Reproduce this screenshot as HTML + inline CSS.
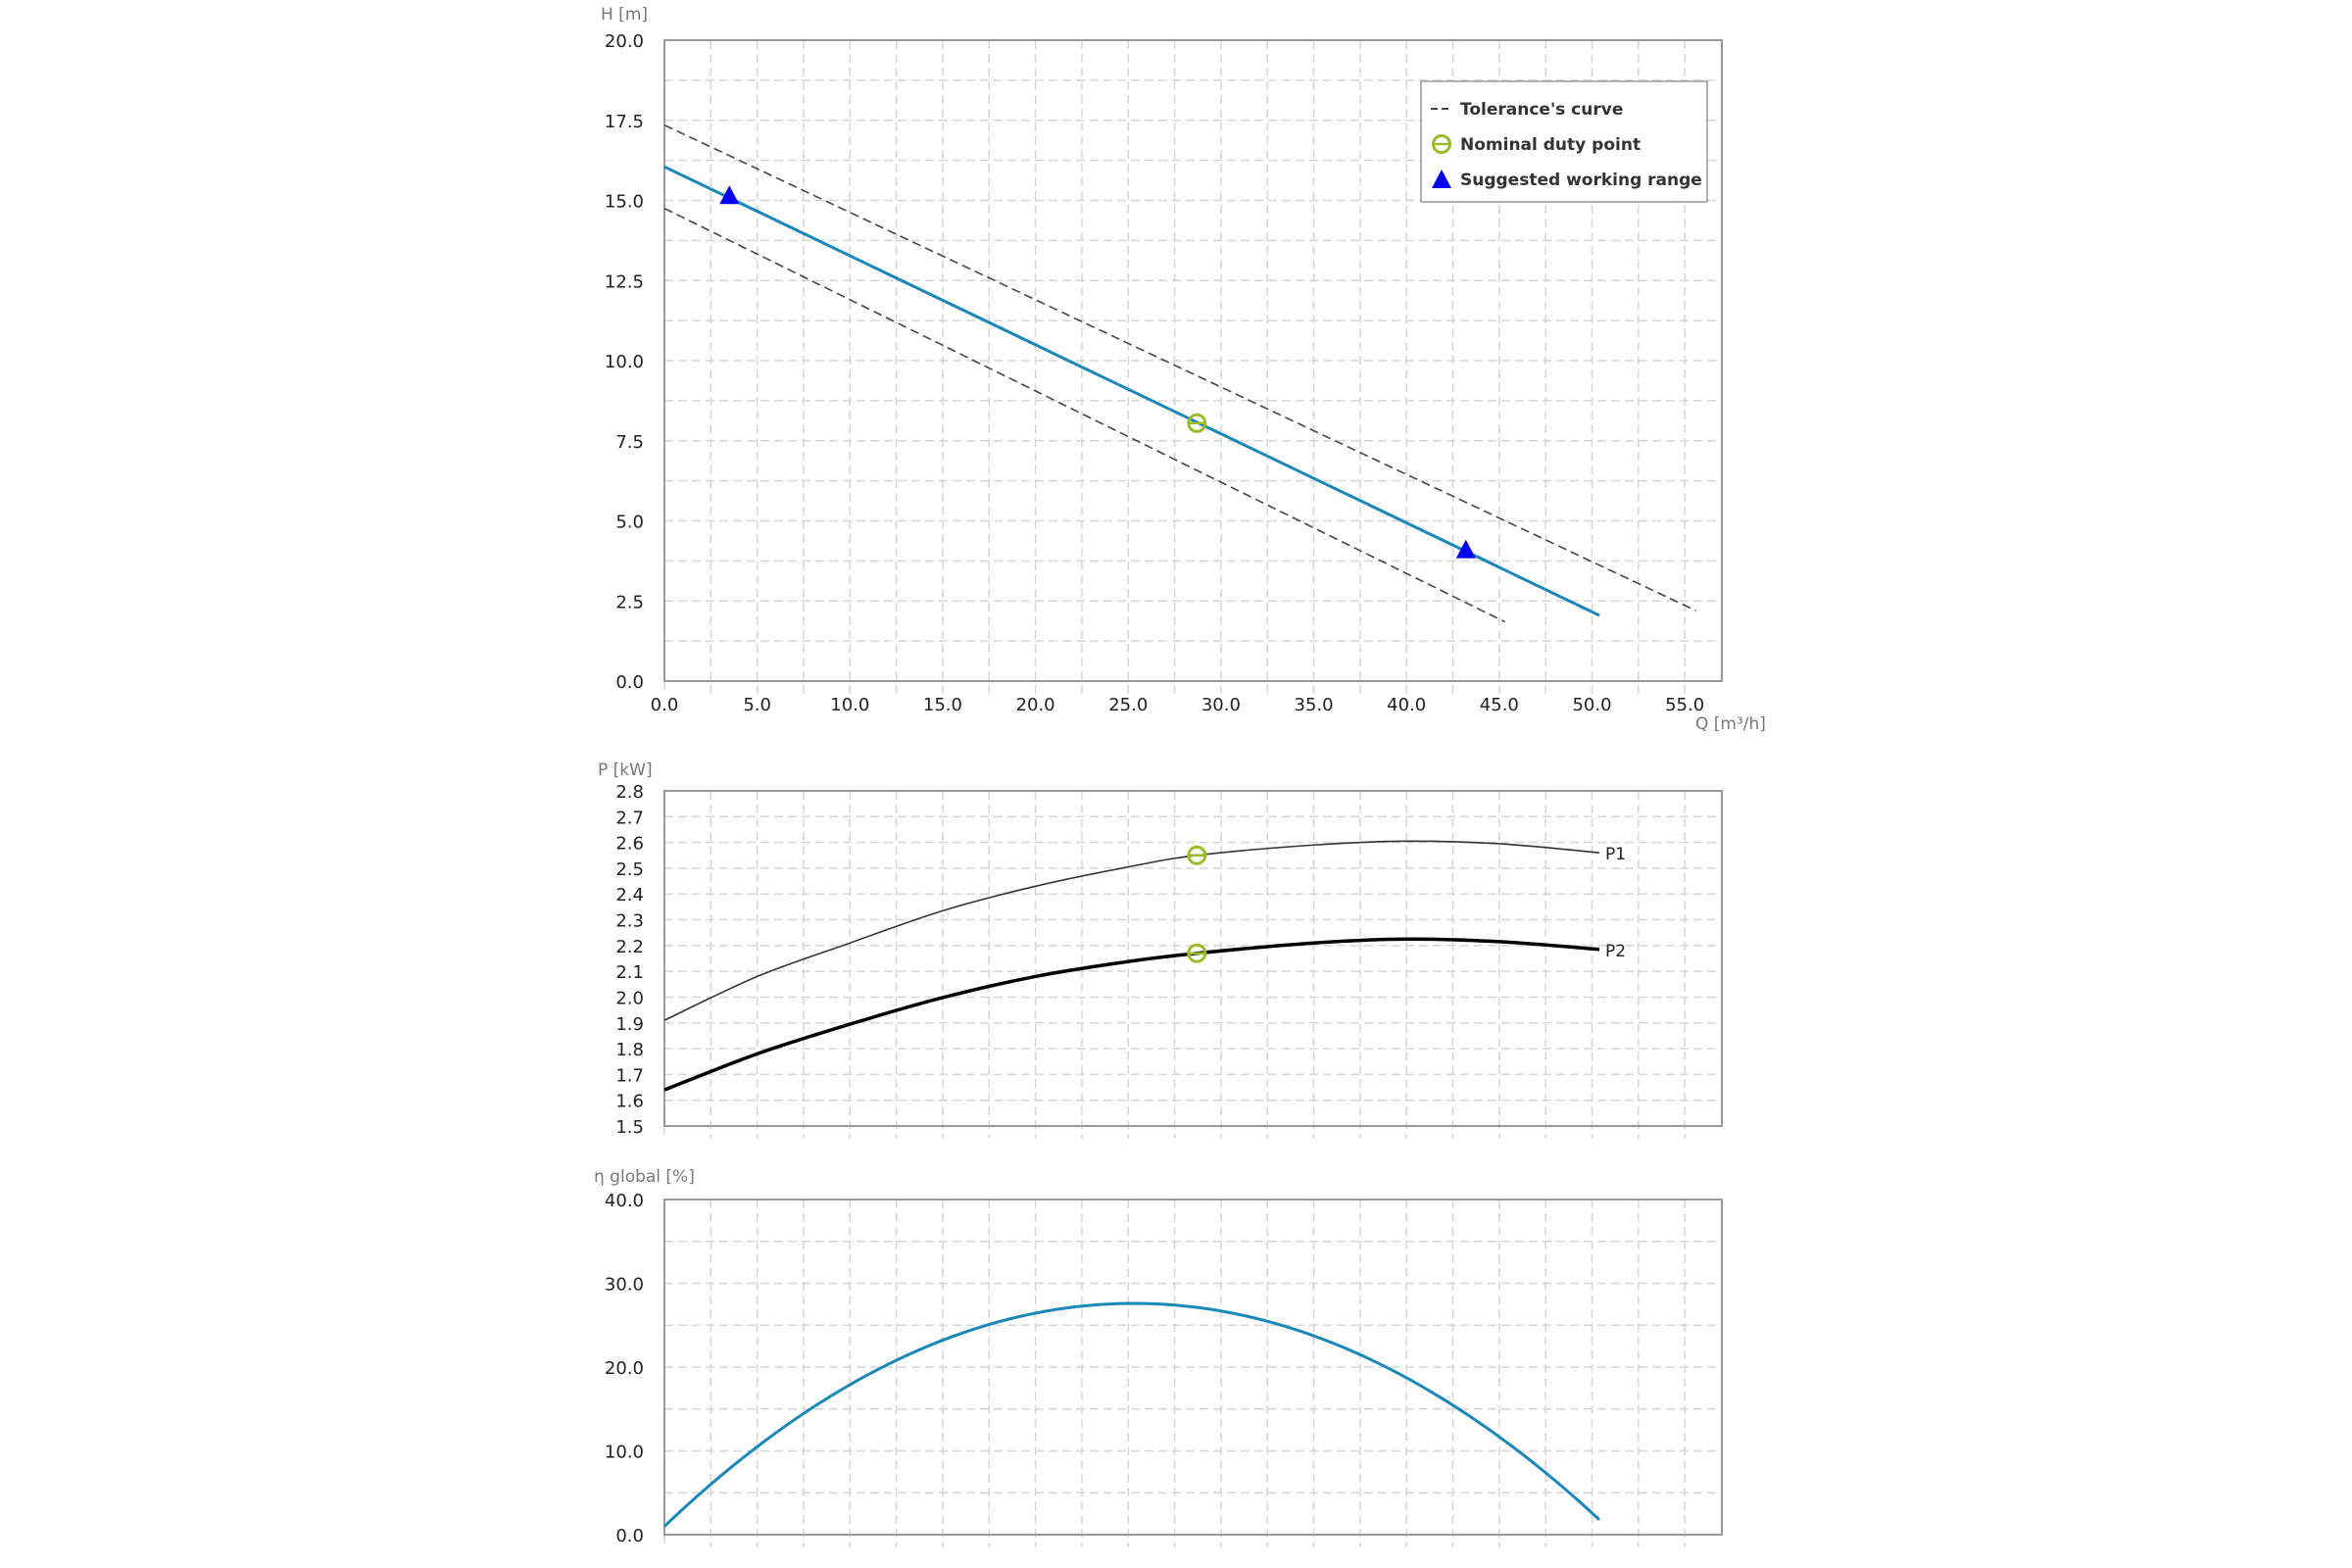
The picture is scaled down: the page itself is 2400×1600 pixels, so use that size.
<!DOCTYPE html>
<html><head><meta charset="utf-8"><style>
html,body{margin:0;padding:0;background:#fff;}
svg{display:block;font-family:"DejaVu Sans","Liberation Sans",sans-serif;}
</style></head><body>
<svg id="s" width="2400" height="1600" viewBox="0 0 2400 1600" xmlns="http://www.w3.org/2000/svg">
<g id="g"></g>
<text x="613" y="20" font-size="17" fill="#777">H [m]</text>
<text x="610" y="791" font-size="17" fill="#777">P [kW]</text>
<text x="606" y="1206" font-size="17" fill="#777">η global [%]</text>
<text x="1730" y="744" font-size="17" fill="#777">Q [m³/h]</text>
<text x="1638" y="877" font-size="17" fill="#222">P1</text>
<text x="1638" y="976" font-size="17" fill="#222">P2</text>
<rect x="1450" y="83" width="292" height="123" fill="#fff" stroke="#999" stroke-width="1.5"/>
<line x1="1460" y1="111" x2="1482" y2="111" stroke="#444" stroke-width="2" stroke-dasharray="7,4"/>
<text x="1490" y="117" font-size="17" font-weight="bold" fill="#333">Tolerance's curve</text>
<circle cx="1471" cy="147" r="8.5" fill="none" stroke="#9cba2c" stroke-width="3"/>
<line x1="1463" y1="147" x2="1479" y2="147" stroke="#9cba2c" stroke-width="2.5"/>
<text x="1490" y="153" font-size="17" font-weight="bold" fill="#333">Nominal duty point</text>
<polygon points="1471,173 1481,192 1461,192" fill="#0000ee"/>
<text x="1490" y="189" font-size="17" font-weight="bold" fill="#333">Suggested working range</text>
</svg>
<script>
const NS="http://www.w3.org/2000/svg",g=document.getElementById('g');
const X0=678,XU=18.93,XR=1757;
function el(t,a){const e=document.createElementNS(NS,t);for(const k in a)e.setAttribute(k,a[k]);g.appendChild(e);return e;}
function tx(x,y,s,anc,fs,fill){const e=el('text',{x:x,y:y,'font-size':fs||18,'text-anchor':anc||'end',fill:fill||'#222'});e.textContent=s;}
const X=q=>X0+q*XU;
const GC='#d6d6d6';
function panel(top,bot,ymin,ymax,gstep,lstep,dec,xlabels){
  const Y=v=>bot-(v-ymin)/(ymax-ymin)*(bot-top);
  for(let q=2.5;q<57;q+=2.5)el('line',{x1:X(q),y1:top,x2:X(q),y2:bot+13,stroke:GC,'stroke-width':1.5,'stroke-dasharray':'9,5'});
  el('line',{x1:X0,y1:bot,x2:X0,y2:bot+13,stroke:GC,'stroke-width':1.5,'stroke-dasharray':'9,5'});
  const n=Math.round((ymax-ymin)/gstep);
  for(let i=1;i<n;i++){const v=ymin+i*gstep;el('line',{x1:X0,y1:Y(v),x2:XR,y2:Y(v),stroke:GC,'stroke-width':1.5,'stroke-dasharray':'9,5'});}
  const m=Math.round((ymax-ymin)/lstep);
  for(let i=0;i<=m;i++){const v=ymin+i*lstep;tx(657,Y(v)+7,v.toFixed(dec));}
  el('rect',{x:X0,y:top,width:XR-X0,height:bot-top,fill:'none',stroke:'#999','stroke-width':2});
  if(xlabels)for(let q=0;q<=55;q+=5)tx(X(q),bot+30,q.toFixed(1),'middle');
  return Y;
}
function path(pts,Y,attrs){
  const P=pts.map(p=>[X(p[0]),Y(p[1])]);let d='M'+P[0];
  for(let i=0;i<P.length-1;i++){const p0=P[i-1]||P[i],p1=P[i],p2=P[i+1],p3=P[i+2]||P[i+1];
    d+=' C'+(p1[0]+(p2[0]-p0[0])/6)+','+(p1[1]+(p2[1]-p0[1])/6)+' '+(p2[0]-(p3[0]-p1[0])/6)+','+(p2[1]-(p3[1]-p1[1])/6)+' '+p2;}
  attrs.d=d;attrs.fill='none';el('path',attrs);
}
function duty(x,y){el('circle',{cx:x,cy:y,r:8.5,fill:'none',stroke:'#9cba2c','stroke-width':3});el('line',{x1:x-8,y1:y,x2:x+8,y2:y,stroke:'#9cba2c','stroke-width':2.5});}
let Y=panel(41,695,0,20,1.25,2.5,1,true);
path([[0,17.35],[55.6,2.2]],Y,{stroke:'#444','stroke-width':1.6,'stroke-dasharray':'9,5'});
path([[0,14.75],[45.3,1.85]],Y,{stroke:'#444','stroke-width':1.6,'stroke-dasharray':'9,5'});
path([[0,16.05],[50.4,2.05]],Y,{stroke:'#1a87b8','stroke-width':3});
[[3.5,15.1],[43.2,4.05]].forEach(p=>{const x=X(p[0]),y=Y(p[1]);el('polygon',{points:`${x},${y-12} ${x+10},${y+7} ${x-10},${y+7}`,fill:'#0000ee'});});
duty(X(28.7),Y(8.05));
Y=panel(807,1149,1.5,2.8,0.1,0.1,1,false);
path([[0,1.91],[5,2.08],[10,2.21],[15,2.335],[20,2.43],[25,2.505],[28.7,2.55],[35,2.59],[40,2.605],[45,2.595],[50.4,2.56]],Y,{stroke:'#333','stroke-width':1.6});
path([[0,1.64],[5,1.78],[10,1.895],[15,1.998],[20,2.08],[25,2.138],[28.7,2.17],[35,2.21],[40,2.225],[45,2.215],[50.4,2.185]],Y,{stroke:'#000','stroke-width':3.5});
duty(X(28.7),Y(2.55));duty(X(28.7),Y(2.17));
Y=panel(1224,1566,0,40,5,10,1,false);
const ep=[];for(let q=0;q<=50.4001;q+=0.6){ep.push([q,1+2.110*q-0.04212*q*q+1.12e-5*q*q*q]);}
let d='M'+ep.map(p=>X(p[0])+','+Y(p[1])).join(' L');
el('path',{d:d,fill:'none',stroke:'#1a87b8','stroke-width':3});
</script>
</body></html>
